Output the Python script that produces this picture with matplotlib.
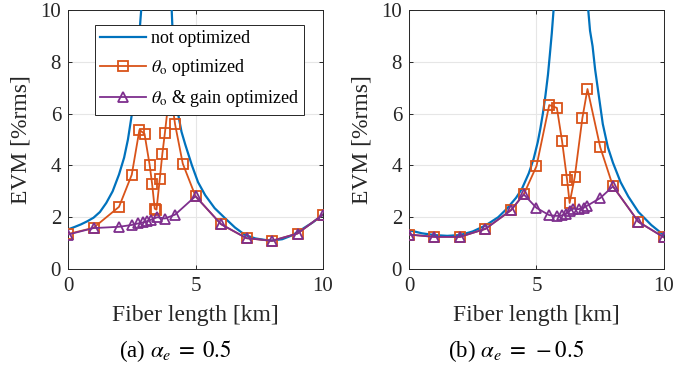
import matplotlib
matplotlib.use("Agg")
import matplotlib.pyplot as plt

plt.rcParams['font.family'] = ['Liberation Serif', 'DejaVu Serif']
plt.rcParams['mathtext.fontset'] = 'stix'

# ---------------- data: (a) alpha_e = 0.5 ----------------
a_blue_l_x = [0, 0.25, 0.5, 0.75, 1.0, 1.25, 1.5, 1.75, 2.0, 2.2, 2.35, 2.5, 2.6, 2.7, 2.8, 2.87, 2.93]
a_blue_l_y = [1.53, 1.62, 1.72, 1.84, 1.98, 2.2, 2.55, 3.0, 3.65, 4.3, 5.0, 5.95, 6.8, 7.8, 9.1, 10.0, 11.0]
a_blue_r_x = [4.02, 4.07, 4.13, 4.2, 4.33, 4.45, 4.6, 4.86, 5.1, 5.38, 5.75, 6.17, 6.55, 6.95, 7.35, 7.74, 8.0, 8.4, 8.79, 9.2, 9.6, 10.0]
a_blue_r_y = [11.0, 9.9, 8.5, 7.3, 5.92, 5.3, 4.8, 4.0, 3.35, 2.85, 2.35, 1.95, 1.6, 1.31, 1.18, 1.12, 1.1, 1.15, 1.3, 1.55, 1.8, 2.1]

a_or_x = [0, 1, 2, 2.5, 2.8, 3.0, 3.2, 3.3, 3.4, 3.47, 3.6, 3.7, 3.8, 4.0, 4.2, 4.5, 5, 6, 7, 8, 9, 10]
a_or_y = [1.35, 1.59, 2.4, 3.64, 5.37, 5.22, 4.03, 3.27, 2.33, 2.29, 3.49, 4.45, 5.26, 7.0, 5.58, 4.07, 2.81, 1.73, 1.19, 1.09, 1.37, 2.1]

a_pu_x = [0, 1, 2, 2.5, 2.75, 2.95, 3.1, 3.25, 3.5, 3.8, 4.2, 5, 6, 7, 8, 9, 10]
a_pu_y = [1.33, 1.58, 1.63, 1.7, 1.76, 1.8, 1.85, 1.9, 2.0, 1.95, 2.1, 2.81, 1.73, 1.19, 1.09, 1.37, 2.1]

# ---------------- data: (b) alpha_e = -0.5 ----------------
b_blue_l_x = [0, 0.5, 1.0, 1.5, 2.0, 2.5, 3.0, 3.5, 3.84, 4.2, 4.43, 4.7, 4.89, 5.05, 5.15, 5.25, 5.35, 5.45, 5.52, 5.6, 5.67, 5.73]
b_blue_l_y = [1.5, 1.38, 1.31, 1.28, 1.31, 1.45, 1.68, 2.0, 2.33, 2.75, 3.1, 3.7, 4.26, 4.9, 5.41, 6.0, 6.69, 7.5, 8.23, 9.1, 10.0, 11.0]
b_blue_r_x = [6.98, 7.03, 7.1, 7.2, 7.3, 7.4, 7.5, 7.6, 7.8, 8.0, 8.3, 8.6, 9.0, 9.5, 10.0]
b_blue_r_y = [11.0, 10.0, 9.2, 8.6, 7.7, 7.0, 6.3, 5.6, 4.7, 4.1, 3.35, 2.8, 2.2, 1.7, 1.3]

b_or_x = [0, 1, 2, 3, 4, 4.5, 5, 5.5, 5.8, 6.0, 6.2, 6.3, 6.5, 6.8, 7.0, 7.5, 8, 9, 10]
b_or_y = [1.33, 1.24, 1.24, 1.55, 2.27, 2.88, 3.97, 6.33, 6.22, 4.96, 3.45, 2.55, 3.55, 5.83, 6.95, 4.7, 3.19, 1.82, 1.22]

b_pu_x = [0, 1, 2, 3, 4, 4.5, 5, 5.5, 5.8, 6.0, 6.15, 6.3, 6.45, 6.65, 6.85, 7.0, 7.5, 8, 9, 10]
b_pu_y = [1.33, 1.24, 1.24, 1.55, 2.27, 2.88, 2.36, 2.08, 2.05, 2.07, 2.14, 2.25, 2.33, 2.31, 2.37, 2.45, 2.74, 3.19, 1.82, 1.22]

labels = ['not optimized', r'$\theta_{\mathrm{o}}$ optimized', r'$\theta_{\mathrm{o}}$ & gain optimized']
captions = [r'(a) $\alpha_e\;=\;0.5$', r'(b) $\alpha_e\;=\;-0.5$']
xticks = [0, 5, 10]
yticks = [0, 2, 4, 6, 8, 10]

C_BLUE = '#0072BD'
C_OR = '#D95319'
C_PU = '#7E2F8E'

fig = plt.figure(figsize=(6.99, 3.68), dpi=100)
ax1 = fig.add_axes([0.0973, 0.269, 0.3648, 0.7038])
ax2 = fig.add_axes([0.5851, 0.269, 0.3648, 0.7038])

datasets = [
    (ax1, a_blue_l_x, a_blue_l_y, a_blue_r_x, a_blue_r_y, a_or_x, a_or_y, a_pu_x, a_pu_y),
    (ax2, b_blue_l_x, b_blue_l_y, b_blue_r_x, b_blue_r_y, b_or_x, b_or_y, b_pu_x, b_pu_y),
]

for i, (ax, blx, bly, brx, bry, ox, oy, px, py) in enumerate(datasets):
    l1, = ax.plot(blx, bly, color=C_BLUE, lw=1.6, zorder=3)
    ax.plot(brx, bry, color=C_BLUE, lw=1.6, zorder=3)
    l2, = ax.plot(ox, oy, color=C_OR, lw=1.3, marker='s', ms=6.5, mfc='none', mew=1.3, zorder=4)
    l3, = ax.plot(px, py, color=C_PU, lw=1.3, marker='^', ms=7, mfc='none', mew=1.3, zorder=5)
    ax.set_xlim(0, 10)
    ax.set_ylim(0, 10)
    ax.set_xticks(xticks)
    ax.set_yticks(yticks)
    ax.grid(True, color='#e6e6e6', lw=0.8, zorder=0)
    ax.set_axisbelow(True)
    ax.tick_params(direction='in', top=True, right=True, length=3, width=0.7,
                   labelsize=15, colors='#262626', pad=5)
    ax.tick_params(axis='x', pad=6)
    for s in ax.spines.values():
        s.set_color('#262626')
        s.set_linewidth(0.7)
    ax.set_xlabel('Fiber length [km]', fontsize=17, color='#262626', labelpad=6)
    ax.set_ylabel('EVM [%rms]', fontsize=17, color='#262626', labelpad=6)
    pos = ax.get_position()
    fig.text(pos.x0 + pos.width / 2 - 20 / 699, 0.045, captions[i], ha='center', va='center',
             fontsize=16.5)
    if i == 0:
        leg = ax.legend([l1, l2, l3], labels, loc='upper left', bbox_to_anchor=(0.106, 0.942),
                        fontsize=13, frameon=True, fancybox=False, framealpha=1,
                        edgecolor='#262626', handlelength=2.5, borderpad=0.3,
                        labelspacing=0.55, handletextpad=0.3, borderaxespad=0)
        leg.get_frame().set_linewidth(0.7)
        leg.set_zorder(10)

fig.savefig('out.png', dpi=100)
